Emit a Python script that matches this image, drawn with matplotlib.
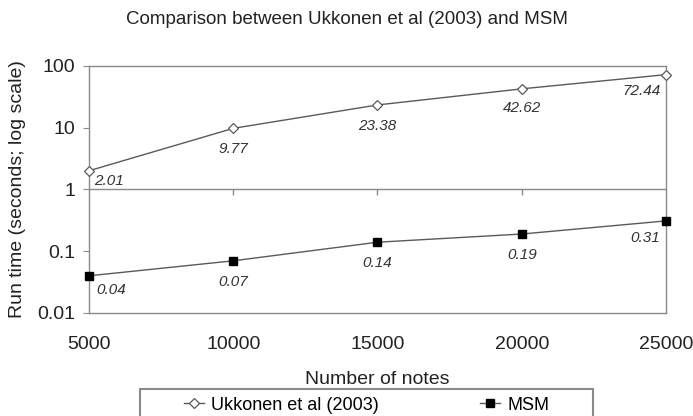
import matplotlib
matplotlib.use("Agg")
import matplotlib.pyplot as plt
from matplotlib.patches import Rectangle

notes = [5000, 10000, 15000, 20000, 25000]
ukkonen = [2.01, 9.77, 23.38, 42.62, 72.44]
msm = [0.04, 0.07, 0.14, 0.19, 0.31]
yticks = [0.01, 0.1, 1, 10, 100]
ytick_labels = ["0.01", "0.1", "1", "10", "100"]

plt.rcParams['font.family'] = ['Liberation Sans', 'DejaVu Sans']
gray = '#8a8a8a'
line_col = '#5a5a5a'

fig = plt.figure(figsize=(6.93, 4.16), dpi=100)
ax = fig.add_axes([0.1284, 0.2476, 0.8326, 0.5938])

ax.plot(notes, ukkonen, color=line_col, lw=1, marker='D', ms=5,
        mfc='white', mec=line_col, mew=0.9, label='Ukkonen et al (2003)', clip_on=False, zorder=3)
ax.plot(notes, msm, color=line_col, lw=1, marker='s', ms=6,
        mfc='black', mec='black', label='MSM', clip_on=False, zorder=3)

ax.set_yscale('log')
ax.set_ylim(0.01, 100)
ax.set_xlim(notes[0], notes[-1])
ax.set_yticks(yticks)
ax.set_yticklabels(ytick_labels)
ax.yaxis.set_minor_locator(matplotlib.ticker.NullLocator())
ax.set_xticks(notes)
ax.set_xticklabels([str(n) for n in notes])
ax.tick_params(axis='x', length=0, pad=16.5, labelsize=14, colors='#222222')
ax.tick_params(axis='y', length=4, color=gray, labelsize=14, pad=6, labelcolor='#222222')

for s in ax.spines.values():
    s.set_color(gray)
    s.set_linewidth(1)

# category axis crosses at 1 (Excel default on log scale), with small ticks below
ax.axhline(1, color=gray, lw=1, zorder=1)
ax.vlines(notes[1:-1], 0.8, 1, color=gray, lw=1, zorder=1)

# data labels: (dx, dy) in points, alignment
offsets_u = [(4, -7.5, 'left'), (0, -15, 'center'), (0, -15, 'center'), (0, -14, 'center'), (-4, -12, 'right')]
offsets_m = [(5, -10, 'left'), (0, -15, 'center'), (0, -15, 'center'), (0, -15, 'center'), (-4, -12, 'right')]
for x, y, (dx, dy, ha) in zip(notes, ukkonen, offsets_u):
    ax.annotate(f"{y:.2f}", (x, y), xytext=(dx, dy), textcoords='offset points',
                ha=ha, va='center', fontsize=11, style='italic', color='#333333')
for x, y, (dx, dy, ha) in zip(notes, msm, offsets_m):
    ax.annotate(f"{y:.2f}", (x, y), xytext=(dx, dy), textcoords='offset points',
                ha=ha, va='center', fontsize=11, style='italic', color='#333333')

fig.text(0.5, 1 - 20 / 416, "Comparison between Ukkonen et al (2003) and MSM",
         fontsize=13.5, ha='center', va='center', color='#222222')
ax.set_xlabel("Number of notes", fontsize=14, labelpad=13, color='#222222')
ax.set_ylabel("Run time (seconds; log scale)", fontsize=14, labelpad=8, color='#222222')

# legend box (cut by bottom edge as in the original)
fig.patches.append(Rectangle((140 / 693, -0.05), 453 / 693, 0.05 + 1 - 389 / 416,
                             transform=fig.transFigure, fill=False, edgecolor=gray, lw=1.5))
leg = fig.legend(loc='center', bbox_to_anchor=(366.5 / 693, 1 - 405 / 416), ncol=2, frameon=False,
                 fontsize=13, handlelength=1.1, handletextpad=0.4, columnspacing=5.6,
                 borderpad=0, borderaxespad=0)

fig.savefig("out.png", dpi=100)
